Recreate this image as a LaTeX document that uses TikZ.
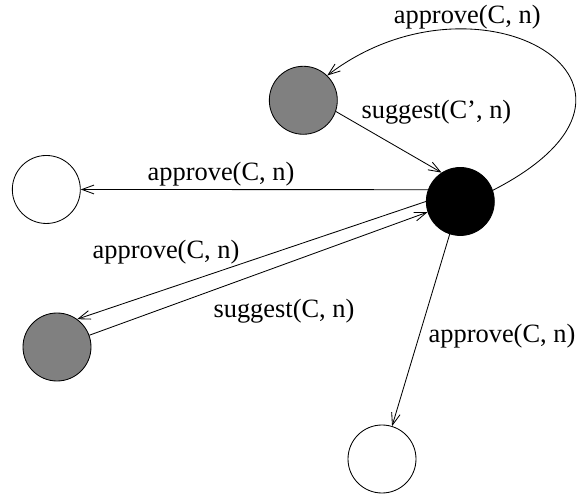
\documentclass[tikz,border=0pt]{standalone}
\usepackage{fontspec}
\setmainfont{Liberation Serif}
\usetikzlibrary{arrows.meta}
\definecolor{cgrey}{HTML}{808080}
\tikzset{
  every picture/.style={line width=0.6pt},
  agent/.style={circle, draw=black, fill=#1, minimum size=1.7cm, inner sep=0pt},
  agent/.default=white,
  msg/.style={-{Straight Barb[length=3mm, width=2.2mm]}, line width=0.6pt},
  lbl/.style={font=\fontsize{18.8}{22}\selectfont, inner sep=0pt},
}
\begin{document}
\begin{tikzpicture}
  \useasboundingbox (0,0) rectangle (14.425,12.375);
  % agents
  \node[agent=cgrey] (gtop) at (7.583,9.868) {};
  \node[agent=black] (blk) at (11.508,7.338) {};
  \node[agent] (wleft) at (1.158,7.638) {};
  \node[agent=cgrey] (gbot) at (1.425,3.7) {};
  \node[agent] (wbot) at (9.55,0.9) {};
  % messages
  \draw[msg] (blk.19) .. controls (17.42,10.23) and (11.98,13.39) .. (gtop.46);
  \draw[msg] (gtop.-19) -- (blk.123);
  \draw[msg] (blk.160) -- (wleft.east);
  \draw[msg] (blk.180) -- (gbot.54);
  \draw[msg] (gbot.20) -- (blk.198);
  \draw[msg] (blk.252) -- (wbot.73);
  % labels
  \node[lbl] (ltop) at (11.68,11.95) {approve(C, n)};
  \node[lbl] (lsug1) at (10.91,9.56) {suggest(C', n)};
  \node[lbl] (lleft) at (5.525,8.025) {approve(C, n)};
  \node[lbl] (lbot) at (4.15,6.06) {approve(C, n)};
  \node[lbl] (lsug2) at (7.1,4.6) {suggest(C, n)};
  \node[lbl] (lwb) at (12.55,3.975) {approve(C, n)};
\end{tikzpicture}
\end{document}
